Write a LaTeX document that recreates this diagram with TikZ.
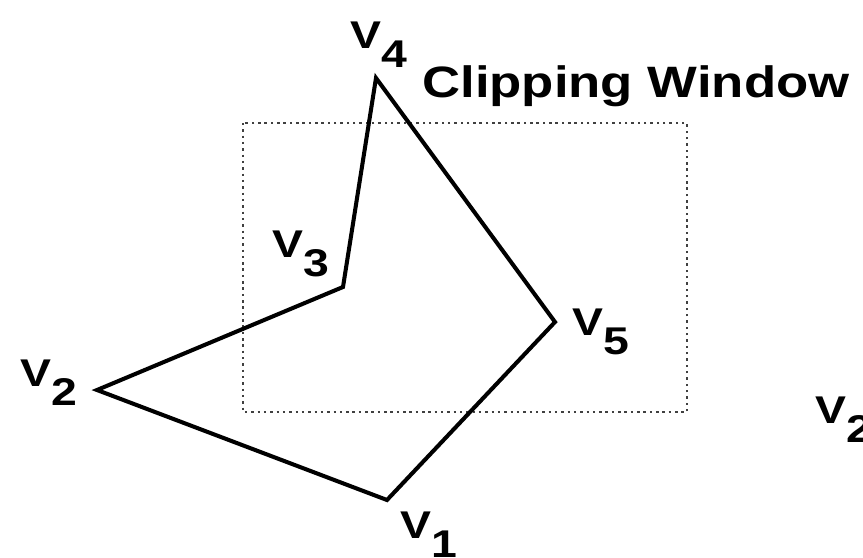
\documentclass[tikz,border=0pt]{standalone}
\usepackage{fontspec}
\setmainfont{Liberation Sans}
\begin{document}
\begin{tikzpicture}[x=0.02cm,y=-0.02cm,
  poly/.style={line width=2.3pt, black},
  clipwin/.style={line width=1pt, black!75, dash pattern=on 1.4pt off 2.2pt},
  vlabel/.style={anchor=base west, inner sep=0pt, font=\fontsize{22}{24}\selectfont\bfseries},
  titlelabel/.style={anchor=base west, inner sep=0pt, font=\fontsize{25}{28}\selectfont\bfseries}]
\useasboundingbox (0,0) rectangle (863,558);
% clipping window
\coordinate (cwa) at (243,123);
\coordinate (cwb) at (687,412);
\draw[clipwin] (cwa) rectangle (cwb);
% polygon vertices
\coordinate (v1) at (387,500);
\coordinate (v2) at (97,390);
\coordinate (v3) at (343,287);
\coordinate (v4) at (376,78);
\coordinate (v5) at (555,322);
\draw[poly] (v1) -- (v2) -- (v3) -- (v4) -- (v5) -- cycle;
% labels
\newcommand{\vlab}[1]{\scalebox{1.2}[1]{V\raisebox{-0.4cm}{#1}}}
\node[vlabel] (l4) at (350,48) {\vlab{4}};
\node[vlabel] (l3) at (272,257) {\vlab{3}};
\node[vlabel] (l2) at (20,386) {\vlab{2}};
\node[vlabel] (l5) at (572,335) {\vlab{5}};
\node[vlabel] (l1) at (400,538) {\vlab{1}};
\node[vlabel] (l2b) at (815,423) {\vlab{2}};
\node[titlelabel] (cw) at (422,97) {\scalebox{1.2}[1]{Clipping Window}};
\end{tikzpicture}
\end{document}
